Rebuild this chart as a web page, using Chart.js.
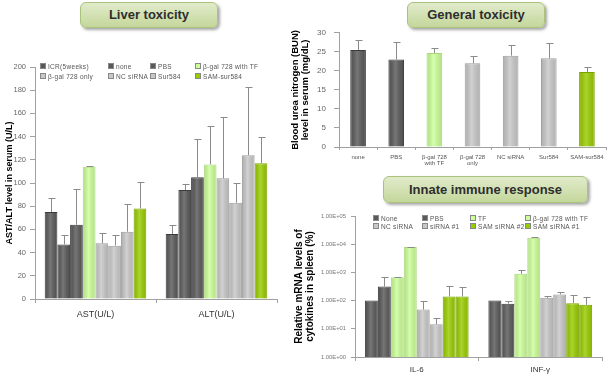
<!DOCTYPE html>
<html>
<head>
<meta charset="utf-8">
<script src="https://cdn.jsdelivr.net/npm/chart.js@4.4.0/dist/chart.umd.min.js"></script>
<style>
body { margin: 0; background: #fff; font-family: Arial, "Liberation Sans", sans-serif; }
#page { position: relative; width: 610px; height: 386px; overflow: hidden; }
canvas { position: absolute; }
.titleBox {
    position: absolute; box-sizing: border-box;
    border: 1px solid #a9c27c; border-radius: 6px;
    background: linear-gradient(#e1ebcb, #c4d79b);
    box-shadow: 2px 2px 3px rgba(0, 0, 0, 0.35);
    color: #2e2e2e; font-weight: bold; font-size: 13px; text-align: center;
}
.legendItem { position: absolute; font-size: 6.5px; color: #555; white-space: nowrap; letter-spacing: 0.3px; line-height: 8px; }
.legendItem i { display: inline-block; width: 4px; height: 4px; margin-right: 2px; border: 1px solid #888; vertical-align: 0px; }
</style>
</head>
<body>
<div id="page">
    <div class="titleBox" style="left:80px; top:2px; width:138px; height:26px; line-height:24px;">Liver toxicity</div>
    <div class="titleBox" style="left:407px; top:2px; width:138px; height:26px; line-height:24px;">General toxicity</div>
    <div class="titleBox" style="left:383px; top:176px; width:205px; height:27px; line-height:25px;">Innate immune response</div>
    <canvas id="liver" width="285" height="290" style="left:0px; top:40px;"></canvas>
    <canvas id="bun" width="320" height="150" style="left:290px; top:20px;"></canvas>
    <canvas id="immune" width="320" height="175" style="left:290px; top:205px;"></canvas>
</div>
<script>
// liver toxicity (AST / ALT)
const liverCategories = ['AST(U/L)', 'ALT(U/L)'];
const liverGroups = ['ICR(5weeks)', 'none', 'PBS', 'β-gal 728 with TF', 'β-gal 728 only', 'NC siRNA', 'Sur584', 'SAM-sur584'];
const astMeans = [75, 47, 64, 114, 48, 46, 58, 78];
const astTops = [87, 55, 95, 114.5, 57, 55, 82, 101];
const altMeans = [56, 94, 105, 116, 104, 83, 124, 117];
const altTops = [64, 99, 138, 149, 157, 100, 183, 140];

// general toxicity (BUN)
const bunGroups = ['none', 'PBS', ['β-gal 728', 'with TF'], ['β-gal 728', 'only'], 'NC siRNA', 'Sur584', 'SAM-sur584'];
const bunMeans = [25.5, 23, 24.7, 22, 24, 23.3, 19.7];
const bunTops = [28, 27.7, 26, 23.8, 26.7, 27.3, 21];

// innate immune response
const cytokines = ['IL-6', 'INF-γ'];
const immuneGroups = ['None', 'PBS', 'TF', 'β-gal 728 with TF', 'NC siRNA', 'siRNA #1', 'SAM siRNA #2', 'SAM siRNA #1'];
const il6Means = [100, 316, 670, 8000, 48, 14.5, 140, 140];
const il6Tops = [null, 670, 680, 8200, 100, 25, 320, 300];
const infMeans = [100, 78, 890, 17000, 125, 165, 81, 71];
const infTops = [null, 95, 1230, 17500, 148, 198, 160, 132];

const DARK = '#595959';
const LGREEN = '#ccff99';
const LGREY = '#c8c8c8';
const GREEN = '#99cc00';
const EDGES = {};
EDGES[DARK] = '#3a3a3a';
EDGES[LGREEN] = '#a9d77a';
EDGES[LGREY] = '#9c9c9c';
EDGES[GREEN] = '#7aa300';

const liverColors = [DARK, DARK, DARK, LGREEN, LGREY, LGREY, LGREY, GREEN];
const bunColors = [DARK, DARK, LGREEN, LGREY, LGREY, LGREY, GREEN];
const immuneColors = [DARK, DARK, LGREEN, LGREEN, LGREY, LGREY, GREEN, GREEN];

const AXIS = '#a0a0a0';

// gives the bars a light cylinder shading and draws the upper error bars from dataset.tops
const errorBars = {
    id: 'errorBars',
    afterDatasetsDraw(chart) {
        let ctx = chart.ctx;
        let yScale = chart.scales.y;
        ctx.save();
        chart.data.datasets.forEach((ds, di) => {
            chart.getDatasetMeta(di).data.forEach((bar) => {
                let left = bar.x - bar.width / 2;
                let g = ctx.createLinearGradient(left, 0, left + bar.width, 0);
                g.addColorStop(0, 'rgba(0,0,0,0.12)');
                g.addColorStop(0.45, 'rgba(255,255,255,0.18)');
                g.addColorStop(1, 'rgba(0,0,0,0.10)');
                ctx.fillStyle = g;
                ctx.fillRect(left + 1, bar.y + 1, bar.width - 2, bar.base - bar.y - 1);
            });
        });
        ctx.strokeStyle = '#8a8a8a';
        ctx.lineWidth = 1;
        chart.data.datasets.forEach((ds, di) => {
            chart.getDatasetMeta(di).data.forEach((bar, i) => {
                let top = ds.tops[i];
                if (top == null) return;
                let x = Math.round(bar.x) + 0.5;
                let yTop = Math.round(yScale.getPixelForValue(top)) + 0.5;
                ctx.beginPath();
                ctx.moveTo(x, bar.y);
                ctx.lineTo(x, yTop);
                ctx.moveTo(x - 3, yTop);
                ctx.lineTo(x + 4, yTop);
                ctx.stroke();
            });
        });
        ctx.restore();
    }
};

function addLegend(names, colors, colX, rowY) {
    let page = document.getElementById('page');
    names.forEach((name, i) => {
        let item = document.createElement('div');
        item.className = 'legendItem';
        item.style.left = colX[i % 4] + 'px';
        item.style.top = rowY[Math.floor(i / 4)] + 'px';
        item.innerHTML = '<i style="background:' + colors[i] + '"></i>';
        item.appendChild(document.createTextNode(name));
        page.appendChild(item);
    });
}

function sciLabel(value) {
    let exp = Math.floor(Math.log10(value) + 1e-9);
    let mant = value / Math.pow(10, exp);
    let sign = exp < 0 ? '-' : '+';
    return mant.toFixed(2) + 'E' + sign + String(Math.abs(exp)).padStart(2, '0');
}

Chart.defaults.font.family = 'Arial, "Liberation Sans", sans-serif';

// liver chart
let liverSets = [];
for (let i = 0; i < liverGroups.length; i++) {
    liverSets.push({
        label: liverGroups[i],
        data: [astMeans[i], altMeans[i]],
        tops: [astTops[i], altTops[i]],
        backgroundColor: liverColors[i],
        borderColor: EDGES[liverColors[i]],
        borderWidth: 1,
        barPercentage: 1,
        categoryPercentage: 0.84
    });
}

new Chart(document.getElementById('liver'), {
    type: 'bar',
    data: { labels: liverCategories, datasets: liverSets },
    plugins: [errorBars],
    options: {
        responsive: false, animation: false, devicePixelRatio: 1,
        layout: { padding: { top: 27, right: 8, left: 0, bottom: 0 } },
        plugins: { legend: { display: false }, tooltip: { enabled: false } },
        scales: {
            x: {
                grid: { drawOnChartArea: false, color: AXIS, tickLength: 4 },
                border: { color: AXIS },
                ticks: { font: { size: 9 }, color: '#333', padding: 6 },
                afterFit(s) { s.height = 31; }
            },
            y: {
                min: 0, max: 200,
                ticks: { stepSize: 20, font: { size: 7.5 }, color: '#666', padding: 4 },
                grid: { drawOnChartArea: false, color: AXIS, tickLength: 5 },
                border: { color: AXIS },
                title: { display: true, text: 'AST/ALT level in serum (U/L)', font: { size: 9, weight: 'bold' }, color: '#000', padding: { top: 4, bottom: 0 } },
                afterFit(s) { s.width = 35; }
            }
        }
    }
});

// general toxicity chart
new Chart(document.getElementById('bun'), {
    type: 'bar',
    data: {
        labels: bunGroups,
        datasets: [{
            label: 'BUN',
            data: bunMeans,
            tops: bunTops,
            backgroundColor: bunColors,
            borderColor: bunColors.map(c => EDGES[c]),
            borderWidth: 1,
            barPercentage: 0.41,
            categoryPercentage: 1
        }]
    },
    plugins: [errorBars],
    options: {
        responsive: false, animation: false, devicePixelRatio: 1,
        layout: { padding: { top: 11, right: 4, left: 0, bottom: 0 } },
        plugins: { legend: { display: false }, tooltip: { enabled: false } },
        scales: {
            x: {
                grid: { drawOnChartArea: false, color: AXIS, tickLength: 3 },
                border: { color: AXIS },
                ticks: { font: { size: 6, lineHeight: 1 }, color: '#555', padding: 4, maxRotation: 0, autoSkip: false },
                afterFit(s) { s.height = 23; }
            },
            y: {
                min: 0, max: 30,
                ticks: { stepSize: 5, font: { size: 8 }, color: '#666', padding: 8 },
                grid: { drawOnChartArea: false, color: AXIS, tickLength: 5 },
                border: { color: AXIS },
                title: { display: true, text: ['Blood urea nitrogen (BUN)', 'level in serum (mg/dL)'], font: { size: 9.5, weight: 'bold', lineHeight: 1 }, color: '#000', padding: { top: 1, bottom: 0 } },
                afterFit(s) { s.width = 49; }
            }
        }
    }
});

// innate immune response chart
let immuneSets = [];
for (let i = 0; i < immuneGroups.length; i++) {
    immuneSets.push({
        label: immuneGroups[i],
        data: [il6Means[i], infMeans[i]],
        tops: [il6Tops[i], infTops[i]],
        backgroundColor: immuneColors[i],
        borderColor: EDGES[immuneColors[i]],
        borderWidth: 1,
        barPercentage: 1,
        categoryPercentage: 0.84
    });
}

new Chart(document.getElementById('immune'), {
    type: 'bar',
    data: { labels: cytokines, datasets: immuneSets },
    plugins: [errorBars],
    options: {
        responsive: false, animation: false, devicePixelRatio: 1,
        layout: { padding: { top: 11, right: 8, left: 0, bottom: 0 } },
        plugins: { legend: { display: false }, tooltip: { enabled: false } },
        scales: {
            x: {
                grid: { drawOnChartArea: false, color: AXIS, tickLength: 4 },
                border: { color: AXIS },
                ticks: { font: { size: 8 }, color: '#333', padding: 4 },
                afterFit(s) { s.height = 23; }
            },
            y: {
                type: 'logarithmic', min: 1, max: 100000,
                afterBuildTicks(s) { s.ticks = [1, 10, 100, 1000, 10000, 100000].map(v => ({ value: v })); },
                ticks: { font: { size: 5.8 }, color: '#777', padding: 5, callback: v => sciLabel(v) },
                grid: { drawOnChartArea: false, color: AXIS, tickLength: 4 },
                border: { color: AXIS },
                title: { display: true, text: ['Relative mRNA levels of', 'cytokines in spleen (%)'], font: { size: 10, weight: 'bold', lineHeight: 1.1 }, color: '#000', padding: { top: 4, bottom: 0 } },
                afterFit(s) { s.width = 65; }
            }
        }
    }
});

addLegend(liverGroups, liverColors, [40, 108, 150, 195], [63, 73]);
addLegend(immuneGroups, immuneColors, [373, 422, 470, 525], [215, 223]);
</script>
</body>
</html>
